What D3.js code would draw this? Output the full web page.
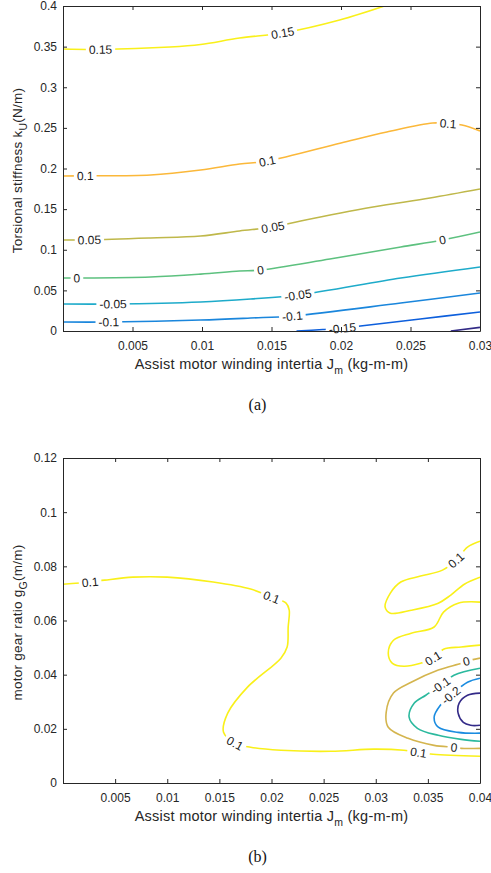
<!DOCTYPE html>
<html>
<head>
<meta charset="utf-8">
<script src="https://cdn.jsdelivr.net/npm/d3@7"></script>
<style>
    body { margin: 0; background: #fff; }
    svg { display: block; font-family: "Liberation Sans", Arial, Helvetica, sans-serif; }
</style>
</head>
<body>
<svg id="chart" width="491" height="873"></svg>
<script>
// ---- panel (a): torsional stiffness vs motor inertia ----
const xTicksA = [0.005, 0.01, 0.015, 0.02, 0.025, 0.03];
const yTicksA = [0, 0.05, 0.1, 0.15, 0.2, 0.25, 0.3, 0.35, 0.4];
const levelsA = [0.15, 0.1, 0.05, 0, -0.05, -0.1, -0.15, -0.2];
const colorsA = ['#f9f01a', '#fbb83a', '#bfb84a', '#5dc17f', '#1eabca', '#1a86dc', '#0d5fdc', '#322a86'];

// contour lines, [Jm, ku] pairs
const a_p15 = [[0, 0.347], [0.0027, 0.3465], [0.0077, 0.3495], [0.0099, 0.3526], [0.0127, 0.3606], [0.0158, 0.3668], [0.0199, 0.3828], [0.0233, 0.401]];
const a_p10 = [[0, 0.1908], [0.0016, 0.191], [0.0063, 0.192], [0.0099, 0.1982], [0.0127, 0.2055], [0.0147, 0.2092], [0.02, 0.2314], [0.0233, 0.2449], [0.0266, 0.256], [0.0277, 0.2553], [0.0287, 0.2535], [0.03, 0.2462]];
const a_p05 = [[0, 0.112], [0.0019, 0.1122], [0.0063, 0.1145], [0.0099, 0.1169], [0.0127, 0.1231], [0.0151, 0.128], [0.0171, 0.1354], [0.0223, 0.1526], [0.0264, 0.1637], [0.03, 0.1748]];
const a_0 = [[0, 0.0652], [0.001, 0.0652], [0.0063, 0.0665], [0.0099, 0.07], [0.0127, 0.0738], [0.0142, 0.075], [0.0192, 0.0886], [0.0243, 0.1034], [0.0273, 0.112], [0.03, 0.1218]];
const a_m05 = [[0, 0.0332], [0.0036, 0.0332], [0.0099, 0.0357], [0.0135, 0.0394], [0.0169, 0.0443], [0.0243, 0.0652], [0.03, 0.0788]];
const a_m10 = [[0, 0.0111], [0.0033, 0.0111], [0.0099, 0.0135], [0.0135, 0.016], [0.0165, 0.0185], [0.0243, 0.0345], [0.03, 0.0468]];
const a_m15 = [[0.0168, 0], [0.0187, 0.0018], [0.0201, 0.0035], [0.0214, 0.0062], [0.0257, 0.0148], [0.03, 0.0234]];
const a_m20 = [[0.0279, 0], [0.03, 0.0045]];
// which points carry an inline label
const a_labels = [[1, 5], [1, 5, 9], [1, 5], [1, 5, 8], [1, 4], [1, 4], [2], []];

// ---- panel (b): gear ratio vs motor inertia ----
const xTicksB = [0.005, 0.01, 0.015, 0.02, 0.025, 0.03, 0.035, 0.04];
const yTicksB = [0, 0.02, 0.04, 0.06, 0.08, 0.1, 0.12];

const b_p10a = [[0, 0.0734], [0.0026, 0.0742], [0.004, 0.0749], [0.0067, 0.076], [0.01, 0.076], [0.0144, 0.0742], [0.018, 0.0716], [0.02, 0.0686], [0.0214, 0.0664], [0.0217, 0.0638], [0.0216, 0.0576], [0.0215, 0.0502], [0.0209, 0.0461], [0.0177, 0.0354], [0.0158, 0.0258], [0.0154, 0.0187], [0.0165, 0.0147], [0.018, 0.0132], [0.0209, 0.0121], [0.0257, 0.0117], [0.0298, 0.0125], [0.0327, 0.0121], [0.0341, 0.0113], [0.0355, 0.0106], [0.04, 0.0099]];
const b_p10b = [[0.04, 0.0893], [0.0388, 0.0871], [0.0377, 0.0823], [0.0364, 0.0786], [0.0343, 0.0764], [0.0324, 0.0742], [0.0314, 0.0701], [0.0309, 0.0649], [0.0314, 0.0627], [0.0334, 0.0638], [0.036, 0.0664], [0.0372, 0.0694], [0.0385, 0.0734], [0.04, 0.076]];
const b_p10c = [[0.04, 0.0668], [0.0379, 0.0664], [0.0365, 0.0631], [0.0356, 0.0576], [0.0334, 0.0553], [0.0317, 0.0527], [0.0312, 0.0479], [0.0316, 0.0442], [0.0327, 0.0431], [0.0343, 0.0442], [0.0355, 0.0461], [0.0365, 0.0494], [0.0382, 0.0502], [0.04, 0.0509]];
const b_0 = [[0.04, 0.0461], [0.0387, 0.045], [0.0382, 0.0442], [0.036, 0.0417], [0.0334, 0.0372], [0.0317, 0.0332], [0.031, 0.0261], [0.0312, 0.0206], [0.0331, 0.0165], [0.0356, 0.0139], [0.0375, 0.0132], [0.0382, 0.0128], [0.04, 0.0128]];
const b_m10 = [[0.04, 0.0424], [0.0375, 0.0398], [0.0362, 0.0361], [0.0348, 0.0324], [0.0337, 0.0295], [0.0332, 0.0243], [0.034, 0.0202], [0.036, 0.0176], [0.0382, 0.0161], [0.04, 0.0154]];
const b_m20 = [[0.04, 0.0387], [0.0388, 0.0372], [0.0372, 0.0324], [0.0362, 0.0287], [0.0356, 0.0243], [0.036, 0.0206], [0.0379, 0.0187], [0.04, 0.0184]];
const b_m30 = [[0.04, 0.0332], [0.0388, 0.0324], [0.038, 0.0295], [0.0379, 0.0258], [0.0384, 0.0224], [0.0391, 0.0213], [0.04, 0.0213]];
const levelsB = [0.1, 0.1, 0.1, 0, -0.1, -0.2, -0.3];
const colorsB = ['#f9f01a', '#f9f01a', '#f9f01a', '#d4b54e', '#2bb99e', '#1b8ce0', '#332a88'];
const b_labels = [[1, 7, 16, 22], [2], [10], [1, 10], [2], [2], []];

const svg = d3.select('#chart');
const defs = svg.append('defs');
const plotLeft = 63, plotRight = 480;
const ink = '#262626';

function drawPanel(p) {
    const x = d3.scaleLinear().domain(p.xDomain).range([plotLeft, plotRight]);
    const y = d3.scaleLinear().domain(p.yDomain).range([p.bottom, p.top]);

    defs.append('clipPath').attr('id', p.id + '-clip')
        .append('rect')
        .attr('x', plotLeft).attr('y', p.top)
        .attr('width', plotRight - plotLeft).attr('height', p.bottom - p.top);

    // mask punches gaps in the lines where labels sit
    const mask = defs.append('mask').attr('id', p.id + '-mask')
        .attr('maskUnits', 'userSpaceOnUse')
        .attr('x', 0).attr('y', 0).attr('width', 491).attr('height', 873);
    mask.append('rect').attr('width', 491).attr('height', 873).attr('fill', 'white');

    const line = d3.line()
        .x(d => x(d[0]))
        .y(d => y(d[1]))
        .curve(d3.curveCatmullRom.alpha(0.5));

    const linesG = svg.append('g').attr('clip-path', `url(#${p.id}-clip)`)
        .append('g').attr('mask', `url(#${p.id}-mask)`);
    const labelsG = svg.append('g')
        .attr('font-size', 12)
        .attr('fill', '#1a1a1a');

    p.lines.forEach(c => {
        linesG.append('path')
            .attr('d', line(c.pts))
            .attr('fill', 'none')
            .attr('stroke', c.color)
            .attr('stroke-width', 1.6);

        c.labels.forEach(i => {
            const a = c.pts[Math.max(i - 1, 0)];
            const b = c.pts[Math.min(i + 1, c.pts.length - 1)];
            let ang = Math.atan2(y(b[1]) - y(a[1]), x(b[0]) - x(a[0])) * 180 / Math.PI;
            if (ang > 90) ang -= 180;
            if (ang < -90) ang += 180;
            const tf = `translate(${x(c.pts[i][0])},${y(c.pts[i][1])}) rotate(${ang})`;
            const t = labelsG.append('text')
                .attr('transform', tf)
                .attr('text-anchor', 'middle')
                .attr('dy', '0.36em')
                .text(String(c.level));
            const w = t.node().getComputedTextLength();
            mask.append('rect')
                .attr('transform', tf)
                .attr('x', -w / 2 - 3).attr('y', -6)
                .attr('width', w + 6).attr('height', 12)
                .attr('fill', 'black');
        });
    });

    // axes box with inward ticks
    const fmt = d => String(+d.toFixed(4));
    const styleAxis = g => g
        .attr('font-size', 12)
        .attr('font-family', null)
        .attr('color', ink)
        .call(s => s.select('.domain').attr('stroke-width', 1));

    svg.append('g').attr('transform', `translate(0,${p.bottom})`)
        .call(d3.axisBottom(x).tickValues(p.xTicks).tickFormat(fmt).tickSize(-4).tickSizeOuter(0).tickPadding(10))
        .call(styleAxis);
    svg.append('g').attr('transform', `translate(0,${p.top})`)
        .call(d3.axisTop(x).tickValues(p.xTicks).tickFormat(() => '').tickSize(-4).tickSizeOuter(0))
        .call(styleAxis);
    svg.append('g').attr('transform', `translate(${plotLeft},0)`)
        .call(d3.axisLeft(y).tickValues(p.yTicks).tickFormat(fmt).tickSize(-4).tickSizeOuter(0).tickPadding(6))
        .call(styleAxis);
    svg.append('g').attr('transform', `translate(${plotRight},0)`)
        .call(d3.axisRight(y).tickValues(p.yTicks).tickFormat(() => '').tickSize(-4).tickSizeOuter(0))
        .call(styleAxis);

    // x label
    const xl = svg.append('text')
        .attr('x', (plotLeft + plotRight) / 2)
        .attr('y', p.bottom + 38)
        .attr('text-anchor', 'middle')
        .attr('font-size', 14.5)
        .attr('letter-spacing', 0.25)
        .attr('fill', ink);
    xl.append('tspan').text('Assist motor winding intertia J');
    xl.append('tspan').attr('dy', 4.5).attr('font-size', 10.5).text('m');
    xl.append('tspan').attr('dy', -4.5).text(' (kg-m-m)');

    // y label
    const yl = svg.append('text')
        .attr('transform', `translate(22,${(p.top + p.bottom) / 2 + 2}) rotate(-90)`)
        .attr('text-anchor', 'middle')
        .attr('font-size', 13.5)
        .attr('letter-spacing', 0.25)
        .attr('fill', ink);
    yl.append('tspan').text(p.yLabel[0]);
    yl.append('tspan').attr('dy', 4.5).attr('font-size', 10.5).text(p.yLabel[1]);
    yl.append('tspan').attr('dy', -4.5).text(p.yLabel[2]);

    // panel caption
    svg.append('text')
        .attr('x', 257.5)
        .attr('y', p.bottom + 79)
        .attr('text-anchor', 'middle')
        .attr('font-family', '"Liberation Serif", "Times New Roman", serif')
        .attr('font-size', 16)
        .attr('fill', '#111')
        .text(p.caption);
}

const linesA = [a_p15, a_p10, a_p05, a_0, a_m05, a_m10, a_m15, a_m20]
    .map((pts, i) => ({ pts, level: levelsA[i], color: colorsA[i], labels: a_labels[i] }));
const linesB = [b_p10a, b_p10b, b_p10c, b_0, b_m10, b_m20, b_m30]
    .map((pts, i) => ({ pts, level: levelsB[i], color: colorsB[i], labels: b_labels[i] }));

drawPanel({
    id: 'pa', top: 6, bottom: 331,
    xDomain: [0, 0.03], yDomain: [0, 0.4],
    xTicks: xTicksA, yTicks: yTicksA,
    lines: linesA,
    yLabel: ['Torsional stiffness k', 'U', '(N/m)'],
    caption: '(a)'
});

drawPanel({
    id: 'pb', top: 458, bottom: 783,
    xDomain: [0, 0.04], yDomain: [0, 0.12],
    xTicks: xTicksB, yTicks: yTicksB,
    lines: linesB,
    yLabel: ['motor gear ratio g', 'G', '(m/m)'],
    caption: '(b)'
});
</script>
</body>
</html>
